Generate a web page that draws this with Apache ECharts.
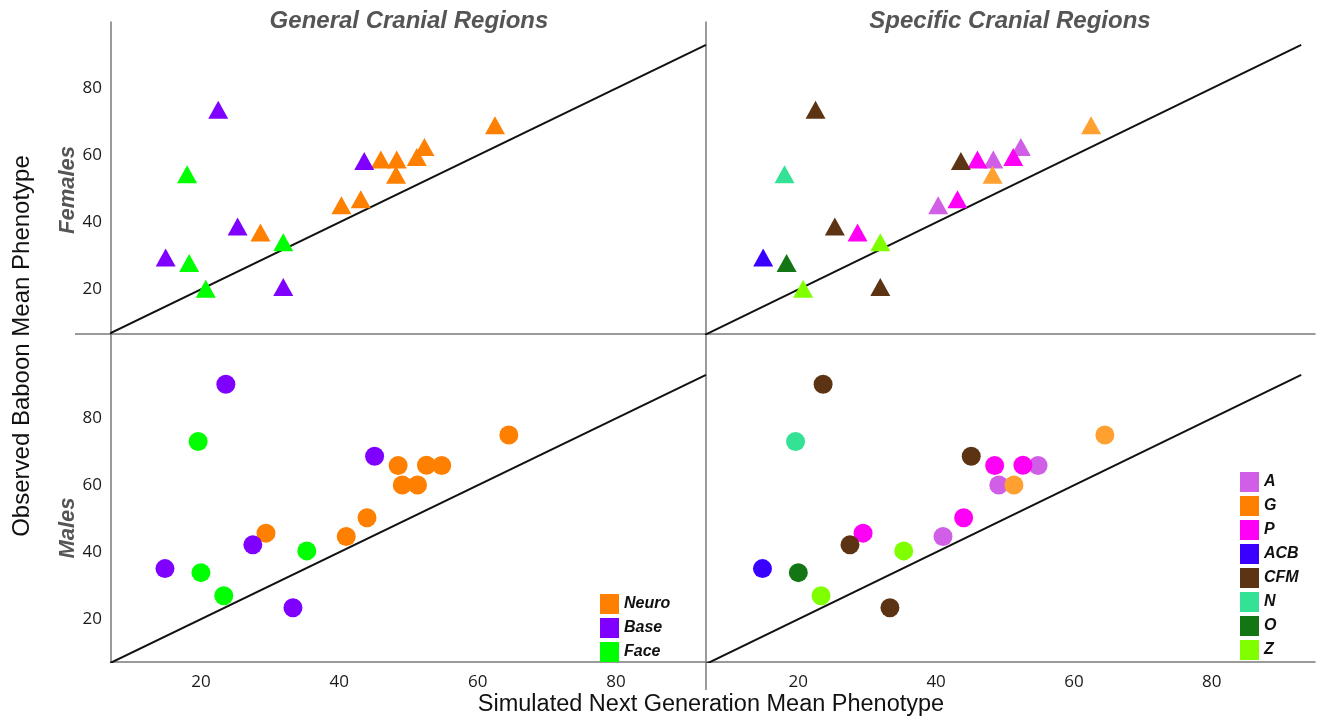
<!DOCTYPE html>
<html>
<head>
<meta charset="utf-8">
<script src="https://cdn.jsdelivr.net/npm/echarts@6/dist/echarts.min.js"></script>
<style>
html,body{margin:0;padding:0;background:#fff;}
#chart{width:1320px;height:721px;}
</style>
</head>
<body>
<div id="chart"></div>
<script>
// ---- Data (simulated x, observed y) ----
const regionNames = ['A', 'G', 'P', 'ACB', 'CFM', 'N', 'O', 'Z'];
const generalNames = ['Neuro', 'Base', 'Face'];
const tickValues = [20, 40, 60, 80];

// Females
const femA   = [[40.3, 45.1], [48.3, 58.8], [52.3, 62.5]];
const femG   = [[48.2, 54.2], [62.5, 69.0]];
const femP   = [[28.6, 37.0], [43.1, 46.9], [46.0, 58.8], [51.2, 59.5]];
const femACB = [[14.9, 29.5]];
const femCFM = [[22.5, 73.6], [25.3, 38.8], [31.9, 20.7], [43.6, 58.3]];
const femN   = [[18.0, 54.4]];
const femO   = [[18.3, 27.9]];
const femZ   = [[20.7, 20.2], [31.9, 34.1]];

// Males
const malA   = [[41.0, 44.7], [49.1, 60.1], [54.8, 65.9]];
const malG   = [[51.3, 60.1], [64.5, 75.0]];
const malP   = [[29.4, 45.7], [44.0, 50.3], [48.5, 65.9], [52.6, 66.0]];
const malACB = [[14.8, 35.1]];
const malCFM = [[23.6, 90.2], [27.5, 42.2], [33.3, 23.4], [45.1, 68.7]];
const malN   = [[19.6, 73.1]];
const malO   = [[20.0, 33.9]];
const malZ   = [[23.3, 27.0], [35.3, 40.4]];

// identity line endpoints
const identityLine = [[0, 0], [93, 93]];

// ---- Styling ----
const regionColors = {A:'#d15ee6', G:'#ffa030', P:'#ff00f6', ACB:'#3a00ff', CFM:'#5c3414', N:'#33e294', O:'#137513', Z:'#80ff00'};
const generalColors = {Neuro:'#ff7f00', Base:'#7f00ff', Face:'#00ff00'};

const fem = {A:femA, G:femG, P:femP, ACB:femACB, CFM:femCFM, N:femN, O:femO, Z:femZ};
const mal = {A:malA, G:malG, P:malP, ACB:malACB, CFM:malCFM, N:malN, O:malO, Z:malZ};
const groupMembers = {Neuro:['A','G','P'], Base:['ACB','CFM'], Face:['N','O','Z']};

const axisLineStyle = {show:true, lineStyle:{color:'#7a7a7a', width:1.5}};
const labelFont = {color:'#1a1a1a', fontFamily:'Open Sans', fontSize:17};

function xAx(grid, min, max, showLabels){
  return {type:'value', gridIndex:grid, min:min, max:max, splitLine:{show:false},
    axisLine:axisLineStyle, axisTick:{show:false},
    axisLabel: showLabels ? Object.assign({show:true, margin:12, customValues:tickValues}, labelFont) : {show:false}};
}
function yAx(grid, min, max, showLabels){
  return {type:'value', gridIndex:grid, min:min, max:max, splitLine:{show:false},
    axisLine:axisLineStyle, axisTick:{show:false},
    axisLabel: showLabels ? Object.assign({show:true, margin:9, customValues:tickValues}, labelFont) : {show:false}};
}

const series = [];
function addDiag(idx){
  series.push({type:'line', name:'identity', xAxisIndex:idx, yAxisIndex:idx, data:identityLine,
    symbol:'none', clip:true, silent:true, z:1, lineStyle:{color:'#111', width:2}});
}
[0,1,2,3].forEach(addDiag);

const triSize = [20, 18];
const cirSize = 19;

// General panels
generalNames.forEach(g => {
  let fd = [], md = [];
  groupMembers[g].forEach(r => { fd = fd.concat(fem[r]); md = md.concat(mal[r]); });
  series.push({type:'scatter', name:g, xAxisIndex:0, yAxisIndex:0, data:fd, symbol:'triangle', symbolSize:triSize, itemStyle:{color:generalColors[g], opacity:1}, z:3});
  series.push({type:'scatter', name:g, xAxisIndex:2, yAxisIndex:2, data:md, symbol:'circle', symbolSize:cirSize, itemStyle:{color:generalColors[g], opacity:1}, z:3});
});
// Specific panels
regionNames.forEach(r => {
  series.push({type:'scatter', name:r, xAxisIndex:1, yAxisIndex:1, data:fem[r], symbol:'triangle', symbolSize:triSize, itemStyle:{color:regionColors[r], opacity:1}, z:3});
  series.push({type:'scatter', name:r, xAxisIndex:3, yAxisIndex:3, data:mal[r], symbol:'circle', symbolSize:cirSize, itemStyle:{color:regionColors[r], opacity:1}, z:3});
});

const titleStyle = {fontFamily:'Liberation Sans', fontSize:24, fontWeight:'bold', fontStyle:'italic', fill:'#555'};
const sideStyle = {fontFamily:'Liberation Sans', fontSize:22, fontWeight:'bold', fontStyle:'italic', fill:'#555'};
const legendText = {fontFamily:'Liberation Sans', fontSize:16, fontWeight:'bold', fontStyle:'italic', color:'#111'};

const option = {
  animation:false,
  backgroundColor:'#fff',
  grid:[
    {left:111, top:22, width:595, height:312},
    {left:706, top:22, width:609, height:312},
    {left:111, top:334, width:595, height:328},
    {left:706, top:334, width:609, height:328}
  ],
  xAxis:[xAx(0,7,93,false), xAx(1,6.6,95,false), xAx(2,7,93,true), xAx(3,6.6,95,true)],
  yAxis:[yAx(0,6.7,99.8,true), yAx(1,6.7,99.8,false), yAx(2,7.2,105.2,true), yAx(3,7.2,105.2,false)],
  legend:[
    {orient:'vertical', left:595, top:589, itemWidth:19, itemHeight:20, itemGap:4, icon:'rect', selectedMode:false,
     textStyle:legendText, data:generalNames.map(g => ({name:g, itemStyle:{opacity:1}}))},
    {orient:'vertical', left:1235, top:467, itemWidth:19, itemHeight:20, itemGap:4, icon:'rect', selectedMode:false,
     textStyle:legendText,
     data:regionNames.map(r => r === 'G' ? {name:r, itemStyle:{color:'#ff7f00', opacity:1}} : {name:r, itemStyle:{opacity:1}})}
  ],
  graphic:[
    {type:'text', style:Object.assign({text:'General Cranial Regions', x:409, y:21, align:'center', verticalAlign:'middle'}, titleStyle)},
    {type:'text', style:Object.assign({text:'Specific Cranial Regions', x:1010, y:21, align:'center', verticalAlign:'middle'}, titleStyle)},
    {type:'text', x:68, y:190, rotation:Math.PI/2, style:Object.assign({text:'Females', x:0, y:0, align:'center', verticalAlign:'middle'}, sideStyle)},
    {type:'text', x:68, y:528, rotation:Math.PI/2, style:Object.assign({text:'Males', x:0, y:0, align:'center', verticalAlign:'middle'}, sideStyle)},
    {type:'text', x:22, y:346, rotation:Math.PI/2, style:{text:'Observed Baboon Mean Phenotype', x:0, y:0, align:'center', verticalAlign:'middle', fontFamily:'Liberation Sans', fontSize:24, fill:'#111'}},
    {type:'text', style:{text:'Simulated Next Generation Mean Phenotype', x:711, y:705, align:'center', verticalAlign:'middle', fontFamily:'Liberation Sans', fontSize:23.5, fill:'#111'}},
    {type:'line', shape:{x1:706, y1:662, x2:706, y2:690}, style:{stroke:'#7a7a7a', lineWidth:1.5}},
    {type:'line', shape:{x1:75, y1:334, x2:111, y2:334}, style:{stroke:'#7a7a7a', lineWidth:1.5}}
  ],
  series:series
};

const chart = echarts.init(document.getElementById('chart'), null, {renderer:'canvas'});
chart.setOption(option);
</script>
</body>
</html>
